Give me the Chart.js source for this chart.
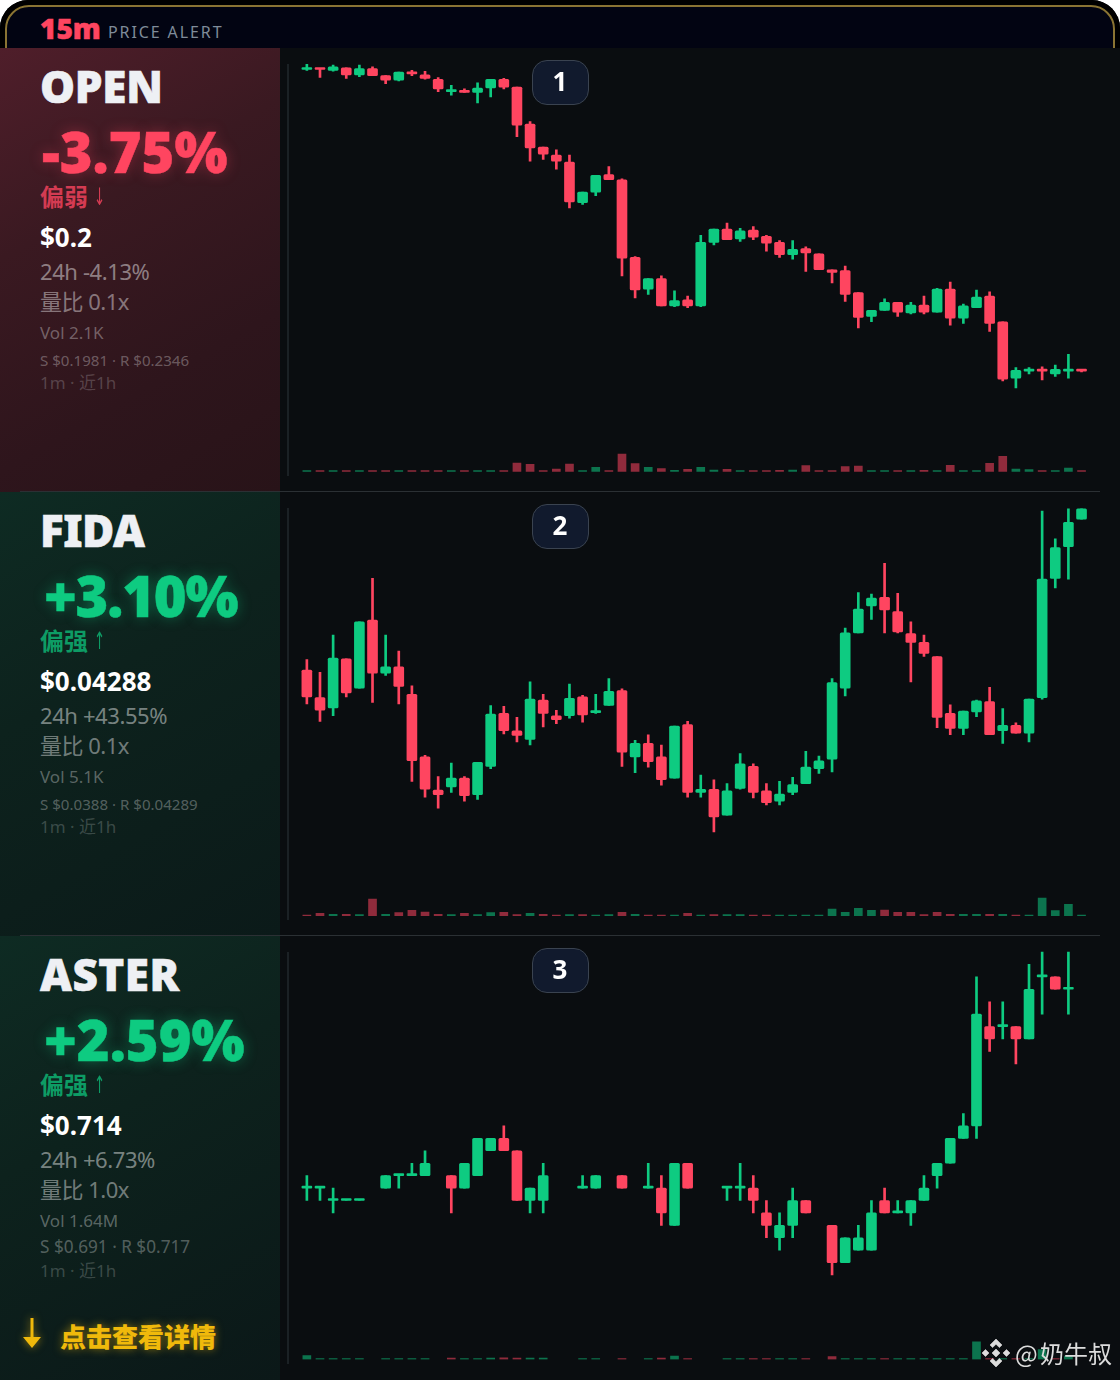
<!DOCTYPE html>
<html lang="zh-CN">
<head>
<meta charset="utf-8">
<script src="https://cdn.jsdelivr.net/npm/chart.js@4"></script>
<style>
html,body{margin:0;padding:0;background:#fff;}
body{width:1120px;height:1380px;overflow:hidden;position:relative;font-family:"Noto Sans","Noto Sans CJK SC",sans-serif;}
#frame{position:absolute;left:0;top:0;width:1120px;height:1380px;background:#0a0d10;border-radius:28px 28px 0 0;overflow:hidden;}
#head{position:absolute;left:0;top:0;width:1120px;height:48px;background:#000;overflow:hidden;}
#headIn{position:absolute;left:5px;top:5px;width:1106px;height:60px;background:#020412;border:2px solid #8a7433;border-radius:24px 24px 0 0;}
.t{position:absolute;white-space:nowrap;}
.side{position:absolute;left:0;width:280px;}
.vline{position:absolute;left:287px;width:2px;height:412px;background:#1b2125;}
.hline{position:absolute;left:20px;width:1080px;height:1px;background:#2b3034;}
.badge{position:absolute;box-sizing:border-box;left:531.5px;width:57px;height:45px;line-height:40px;text-align:center;border:1.5px solid #3a4350;border-radius:15px;background:#111a2d;color:#fff;font-weight:700;font-size:26px;}
canvas{position:absolute;left:281px;display:block;}
</style>
</head>
<body>
<div id="frame">
  <div id="head"><div id="headIn"></div></div>
  <div class="t" style="left:40px;top:7px;font-size:28px;font-weight:900;color:#ff4560;line-height:42px;-webkit-text-stroke:.5px #ff4560;">15m</div>
  <div class="t" style="left:108px;top:20px;font-size:16px;letter-spacing:1.9px;color:#7f8b99;line-height:24px;">PRICE ALERT</div>
  <div id="root"></div>
  <svg style="position:absolute;left:20px;top:1316px;filter:drop-shadow(0 0 4px rgba(240,185,11,.6))" width="24" height="34" viewBox="0 0 24 34"><path d="M10.500 2h3v19h7.500l-9 11-9-11h7.500z" fill="#f0b90b"/></svg>
  <div class="t" style="left:60px;top:1317px;font-size:26px;font-weight:900;line-height:38px;color:#f0b90b;text-shadow:0 0 8px rgba(240,185,11,.55);font-family:'Noto Sans CJK SC';">点击查看详情</div>
  <svg style="position:absolute;left:982px;top:1339px;" width="28" height="28" viewBox="0 0 28 28"><g fill="#dcdcdc" stroke="#dcdcdc" stroke-width=".6"><path d="M14 0l6 6-2.6 2.6L14 5.2l-3.4 3.4L8 6z"/><path d="M14 28l-6-6 2.6-2.6 3.4 3.4 3.4-3.4L20 22z"/><path d="M14 10l4 4-4 4-4-4z"/><path d="M3.500 10.500l3.500 3.500-3.500 3.500L0 14z"/><path d="M24.500 10.500l3.500 3.500-3.500 3.500L21 14z"/></g></svg>
  <div class="t" style="left:1015px;top:1336px;font-size:24px;line-height:34px;color:#dcdcdc;word-spacing:-3px;font-family:'Noto Sans CJK SC';">@ 奶牛叔</div>
</div>
<script>
const categories = ["1","2","3","4","5","6","7","8","9","10","11","12","13","14","15","16","17","18","19","20","21","22","23","24","25","26","27","28","29","30","31","32","33","34","35","36","37","38","39","40","41","42","43","44","45","46","47","48","49","50","51","52","53","54","55","56","57","58","59","60"];

// [open, high, low, close]
const openCandles = [
[.2342,.2348,.2341,.2344],[.2343,.2343,.2333,.2342],[.2341,.2347,.2340,.2345],[.2344,.2344,.2332,.2336],[.2336,.2347,.2334,.2343],
[.2343,.2345,.2335,.2335],[.2335,.2335,.2326,.2330],[.2330,.2339,.2329,.2339],[.2339,.2341,.2335,.2337],[.2336,.2340,.2331,.2332],
[.2331,.2333,.2317,.2320],[.2317,.2324,.2313,.2319],[.2318,.2320,.2316,.2316],[.2316,.2327,.2304,.2321],[.2321,.2331,.2311,.2331],
[.2331,.2332,.2320,.2322],[.2322,.2322,.2266,.2279],[.2280,.2283,.2238,.2253],[.2254,.2254,.2240,.2246],[.2245,.2251,.2229,.2238],
[.2237,.2245,.2185,.2192],[.2191,.2203,.2189,.2203],[.2203,.2222,.2199,.2222],[.2223,.2232,.2217,.2217],[.2217,.2218,.2108,.2128],
[.2129,.2130,.2083,.2092],[.2093,.2105,.2087,.2105],[.2105,.2108,.2074,.2074],[.2074,.2091,.2073,.2080],[.2081,.2085,.2072,.2074],
[.2074,.2154,.2073,.2146],[.2146,.2161,.2143,.2161],[.2161,.2168,.2149,.2149],[.2150,.2162,.2147,.2159],[.2160,.2164,.2149,.2152],
[.2153,.2154,.2136,.2145],[.2146,.2148,.2129,.2132],[.2132,.2148,.2127,.2138],[.2139,.2141,.2113,.2134],[.2133,.2133,.2115,.2115],
[.2115,.2115,.2100,.2112],[.2114,.2119,.2079,.2087],[.2089,.2089,.2049,.2061],[.2062,.2069,.2056,.2069],[.2069,.2082,.2069,.2078],
[.2078,.2078,.2062,.2067],[.2066,.2078,.2065,.2075],[.2075,.2085,.2065,.2067],[.2067,.2094,.2067,.2093],[.2093,.2101,.2052,.2060],
[.2060,.2076,.2054,.2074],[.2072,.2092,.2072,.2084],[.2085,.2090,.2045,.2054],[.2056,.2056,.1989,.1991],[.1992,.2004,.1981,.2001],
[.2000,.2004,.1997,.2002],[.2002,.2005,.1990,.2000],[.1997,.2007,.1994,.2002],[.2000,.2019,.1992,.2002],[.2001,.2001,.1999,.2000]];
const openVolume = [2,2,2,2,2,2,2,2,2,2,2,2,2,3,2,2,26,22,3,8,23,3,13,3,53,24,13,9,4,7,13,5,7,3,3,3,4,5,18,3,3,15,17,2,2,2,2,4,2,19,2,2,25,46,8,6,3,3,11,2];

const fidaCandles = [
[.04084,.04097,.04041,.04050],[.04049,.04081,.04019,.04033],[.04036,.04128,.04026,.04099],[.04098,.04098,.04050,.04055],[.04061,.04145,.04061,.04145],
[.04147,.04200,.04043,.04080],[.04080,.04128,.04077,.04088],[.04088,.04108,.04041,.04063],[.04053,.04064,.03943,.03969],[.03974,.03976,.03923,.03933],
[.03932,.03949,.03909,.03926],[.03936,.03966,.03929,.03947],[.03947,.03949,.03918,.03925],[.03926,.03967,.03920,.03967],[.03962,.04039,.03959,.04028],
[.04029,.04038,.04003,.04007],[.04007,.04024,.03993,.04001],[.03996,.04069,.03989,.04047],[.04046,.04053,.04012,.04029],[.04026,.04033,.04016,.04021],
[.04026,.04066,.04023,.04048],[.04050,.04052,.04018,.04027],[.04030,.04053,.04029,.04031],[.04039,.04073,.04039,.04057],[.04058,.04060,.03962,.03980],
[.03974,.03995,.03954,.03991],[.03991,.04002,.03961,.03968],[.03974,.03989,.03938,.03945],[.03947,.04013,.03947,.04013],[.04015,.04019,.03923,.03929],
[.03929,.03951,.03923,.03933],[.03933,.03945,.03879,.03898],[.03900,.03940,.03900,.03931],[.03934,.03978,.03933,.03965],[.03962,.03965,.03922,.03929],
[.03931,.03940,.03913,.03916],[.03918,.03943,.03913,.03927],[.03929,.03948,.03926,.03939],[.03940,.03981,.03940,.03961],[.03959,.03975,.03953,.03969],
[.03971,.04073,.03955,.04068],[.04061,.04137,.04051,.04131],[.04131,.04182,.04131,.04161],[.04165,.04180,.04148,.04175],[.04176,.04219,.04131,.04160],
[.04158,.04181,.04131,.04132],[.04130,.04145,.04069,.04119],[.04119,.04128,.04101,.04105],[.04101,.04101,.04011,.04024],[.04029,.04040,.04002,.04010],
[.04010,.04032,.04002,.04032],[.04031,.04046,.04025,.04045],[.04044,.04062,.04002,.04002],[.04007,.04035,.03991,.04014],[.04014,.04017,.04004,.04004],
[.04004,.04047,.03993,.04047],[.04049,.04285,.04047,.04199],[.04200,.04250,.04188,.04239],[.04240,.04288,.04199,.04271],[.04275,.04288,.04275,.04288]];
const fidaVolume = [2,8,5,5,4,51,5,10,17,12,5,4,8,4,10,11,4,8,5,2,4,4,2,4,11,5,2,2,2,8,2,4,4,4,2,2,2,2,2,2,21,11,23,17,18,11,11,4,11,5,5,5,5,5,2,2,54,16,35,2];

const asterCandles = [
[.698,.699,.697,.698],[.698,.698,.697,.698],[.697,.698,.696,.697],[.697,.697,.697,.697],[.697,.697,.697,.697],
null,[.698,.699,.698,.699],[.699,.699,.698,.699],[.699,.700,.699,.699],[.699,.701,.699,.700],
null,[.699,.699,.696,.698],[.698,.700,.698,.700],[.699,.702,.699,.702],[.701,.702,.701,.702],
[.702,.703,.701,.701],[.701,.701,.697,.697],[.697,.698,.696,.698],[.697,.700,.696,.699],null,
null,[.698,.699,.698,.698],[.698,.699,.698,.699],null,[.699,.699,.698,.698],
null,[.698,.700,.698,.698],[.698,.699,.695,.696],[.695,.700,.695,.700],[.700,.700,.698,.698],
null,null,[.698,.698,.697,.698],[.698,.700,.697,.698],[.698,.699,.696,.697],
[.696,.697,.694,.695],[.694,.696,.693,.695],[.695,.698,.694,.697],[.697,.697,.696,.696],null,
[.695,.695,.691,.692],[.692,.694,.692,.694],[.693,.695,.693,.694],[.693,.697,.693,.696],[.697,.698,.696,.696],
[.696,.697,.696,.696],[.696,.697,.695,.697],[.697,.699,.697,.698],[.699,.700,.698,.700],[.700,.702,.700,.702],
[.702,.704,.702,.703],[.703,.715,.702,.712],[.711,.713,.709,.710],[.711,.713,.710,.711],[.711,.711,.708,.710],
[.710,.716,.710,.714],[.715,.717,.712,.715],[.715,.715,.714,.714],[.714,.717,.712,.714],null];
const asterVolume = [12,2,2,2,2,null,2,2,2,2,null,4,2,2,4,5,4,4,4,null,null,2,2,null,2,null,2,4,10,2,null,null,2,2,3,3,2,2,2,null,9,2,2,2,3,2,2,2,2,2,2,53,2,2,3,2,30,3,10,null];

const tickers = ["OPEN","FIDA","ASTER"];
const changes = ["-3.75%","+3.10%","+2.59%"];
const biasWords = ["偏弱","偏强","偏强"];
const biasArrows = ["↓","↑","↑"];
const prices = ["$0.2","$0.04288","$0.714"];
const change24h = ["24h -4.13%","24h +43.55%","24h +6.73%"];
const volRatio = ["量比 0.1x","量比 0.1x","量比 1.0x"];
const volText = ["Vol 2.1K","Vol 5.1K","Vol 1.64M"];
const levels = ["S $0.1981 · R $0.2346","S $0.0388 · R $0.04289","S $0.691 · R $0.717"];
const spans = ["1m · 近1h","1m · 近1h","1m · 近1h"];
const ranks = ["1","2","3"];

const allCandles = [openCandles, fidaCandles, asterCandles];
const allVolumes = [openVolume, fidaVolume, asterVolume];
const priceRanges = [[.18860,.23664],[.037725,.043093],[.6842,.71829]];

const UP = "#0ecb81", DOWN = "#ff4560";
const UPV = "rgba(14,203,129,.55)", DOWNV = "rgba(255,69,96,.55)";
const root = document.getElementById("root");
const panelTop = [48, 492, 936];
const panelH = [443, 443, 444];
const padBottom = [19.3, 19, 20.5];
const sideBg = [
 "linear-gradient(150deg,#4f1e2a 0%,#3a1921 35%,#2e151c 70%,#281318 100%)",
 "linear-gradient(150deg,#0e2b23 0%,#0d221d 40%,#0b1a19 100%)",
 "linear-gradient(150deg,#0e2b23 0%,#0d221d 40%,#0b1818 100%)"];
const accent = ["#ff4560","#0ecb81","#0ecb81"];
const accentDim = ["rgba(255,69,96,.78)","rgba(14,203,129,.72)","rgba(14,203,129,.72)"];
const glow = ["rgba(255,69,96,.35)","rgba(14,203,129,.4)","rgba(14,203,129,.4)"];
const chgLeft = [42,44,44];
const chgSpacing = [0,-1.2,0];
const tickerSpacing = [-.3,-.5,.5];
const levelSize = [15.1,15.1,17.2];

function txt(left, top, size, lh, color, weight, s, extra){
  const d = document.createElement("div");
  d.className = "t";
  d.textContent = s;
  d.style.cssText += `left:${left}px;top:${top}px;font-size:${size}px;line-height:${lh}px;color:${color};font-weight:${weight};${extra||""}`;
  root.appendChild(d);
}

tickers.forEach((name,i)=>{
  const off = i*444;
  const side = document.createElement("div");
  side.className = "side";
  side.style.top = panelTop[i]+"px";
  side.style.height = (panelH[i]+ (i==2?0:1))+"px";
  side.style.background = sideBg[i];
  root.appendChild(side);
  const v = document.createElement("div");
  v.className = "vline";
  v.style.top = (64+off)+"px";
  root.appendChild(v);
  if(i>0){
    const h = document.createElement("div");
    h.className = "hline";
    h.style.top = (47+off)+"px";
    root.appendChild(h);
  }
  txt(40,57+off,44,58,"#eef0f4",900,name,`letter-spacing:${tickerSpacing[i]}px;-webkit-text-stroke:.6px #eef0f4;`);
  txt(chgLeft[i],116+off,56,70,accent[i],900,changes[i],`letter-spacing:${chgSpacing[i]}px;text-shadow:0 0 14px ${glow[i]};-webkit-text-stroke:.5px ${accent[i]};`);
  txt(40,180+off,24,34,accentDim[i],700,biasWords[i]);
  txt(94,180+off,24,34,accentDim[i],400,biasArrows[i],"font-family:'DejaVu Sans';transform:scaleX(.55);transform-origin:left center;");
  txt(40,220+off,26,34,"#fff",700,prices[i]);
  txt(40,256+off,22,30,"rgba(255,255,255,.45)",400,change24h[i],"letter-spacing:-.4px;");
  txt(40,286+off,22,30,"rgba(255,255,255,.42)",400,volRatio[i],"letter-spacing:-.5px;");
  txt(40,320+off,17,26,"rgba(255,255,255,.33)",400,volText[i]);
  txt(40,348+off-(i==2?1:0),levelSize[i],24,"rgba(255,255,255,.3)",400,levels[i]);
  txt(40,371+off,17,24,"rgba(255,255,255,.2)",400,spans[i]);

  const c = document.createElement("canvas");
  c.width = 839; c.height = panelH[i];
  c.style.top = panelTop[i]+"px";
  c.style.width = "839px"; c.style.height = panelH[i]+"px";
  root.appendChild(c);

  const b = document.createElement("div");
  b.className = "badge"; b.textContent = ranks[i];
  b.style.top = (59.5+off)+"px";
  root.appendChild(b);

  const rows = allCandles[i];
  const isUp = r => r && r[3] >= r[0];
  const wicks = rows.map(r => r ? [r[2], r[1]] : null);
  const bodies = rows.map(r => r ? [r[0], r[3]] : null);
  const colors = rows.map(r => isUp(r) ? UP : DOWN);
  const volColors = rows.map(r => isUp(r) ? UPV : DOWNV);

  new Chart(c, {
    type:"bar",
    data:{labels:categories,datasets:[
      {label:"high-low",data:wicks,backgroundColor:colors,barThickness:2,order:2,grouped:false,yAxisID:"y"},
      {label:"open-close",data:bodies,backgroundColor:colors,barThickness:10,minBarLength:2,borderRadius:1.5,borderSkipped:false,order:1,grouped:false,yAxisID:"y"},
      {label:"volume",data:allVolumes[i],backgroundColor:volColors,barThickness:8,minBarLength:1,order:3,grouped:false,yAxisID:"v"}
    ]},
    options:{
      responsive:false,animation:false,maintainAspectRatio:false,
      layout:{padding:{left:19.3,right:31.9,top:0,bottom:padBottom[i]}},
      plugins:{legend:{display:false},tooltip:{enabled:false},title:{display:false}},
      scales:{
        x:{display:false,grid:{display:false}},
        y:{display:false,min:priceRanges[i][0],max:priceRanges[i][1],grid:{display:false}},
        v:{display:false,min:0,max:1271,grid:{display:false}}
      }
    }
  });
});
</script>
</body>
</html>
